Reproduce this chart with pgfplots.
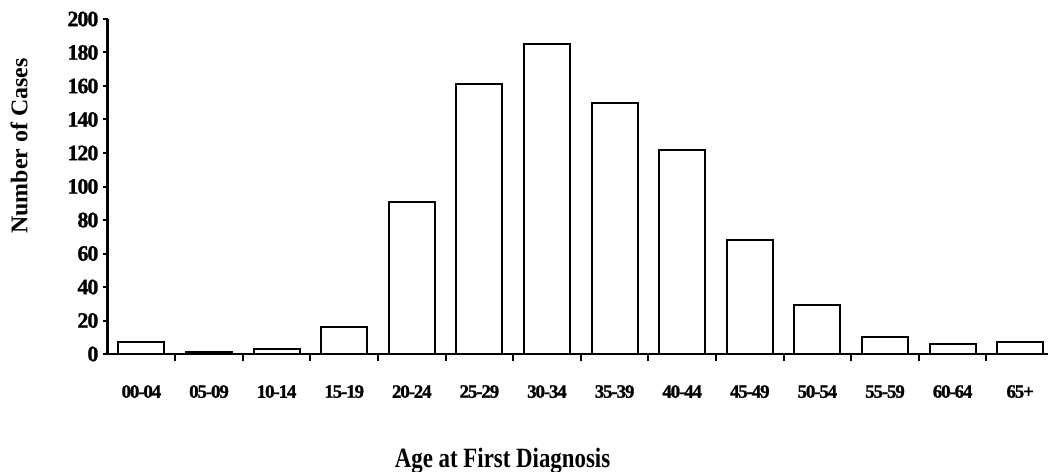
\documentclass[border=0pt]{standalone}
\usepackage{pgfplots}
\pgfplotsset{compat=1.18}
\usepackage{fontspec}
\setmainfont{Liberation Serif}
\newfontfamily\ytickfont[LetterSpace=-4.5,FakeBold=1.2]{Liberation Serif}
\newfontfamily\xtickfont[LetterSpace=-6,FakeBold=1.2]{Liberation Serif}
\newfontfamily\xlabfont[FakeStretch=0.82]{Liberation Serif}
\begin{document}
\begin{tikzpicture}
\useasboundingbox (-107.6bp,-118bp) rectangle (940.4bp,354bp);
\begin{axis}[
  at={(0,0)}, anchor=south west,
  scale only axis, width=946.4bp, height=335bp,
  xmin=-0.5, xmax=13.5, ymin=0, ymax=200,
  axis x line*=bottom, axis y line*=left,
  axis line style={line width=2.5bp, -},
  xtick={0,1,2,3,4,5,6,7,8,9,10,11,12,13},
  xticklabels={00-04,05-09,10-14,15-19,20-24,25-29,30-34,35-39,40-44,45-49,50-54,55-59,60-64,65+},
  major x tick style={draw=none},
  minor xtick={0.5,1.5,2.5,3.5,4.5,5.5,6.5,7.5,8.5,9.5,10.5,11.5,12.5},
  minor x tick style={line width=2bp, black},
  minor tick length=7bp,
  ytick={0,20,40,60,80,100,120,140,160,180,200},
  major y tick style={line width=2bp, black},
  major tick length=5bp,
  tick align=outside,
  /pgf/number format/assume math mode=true,
  yticklabel style={font=\ytickfont\bfseries\fontsize{22}{22}\selectfont, anchor=east, inner sep=0pt, xshift=-4bp},
  xticklabel style={font=\xtickfont\bfseries\fontsize{19}{19}\selectfont, anchor=north, inner sep=0pt, yshift=-26bp},
  xlabel={Age at First Diagnosis},
  xlabel style={font=\xlabfont\bfseries\fontsize{28}{28}\selectfont, at={(rel axis cs:0.4173,-0.340)}, anchor=base},
  ylabel={Number of Cases},
  ylabel style={font=\bfseries\fontsize{24}{24}\selectfont, at={(rel axis cs:-0.0936,0.621)}, anchor=center, rotate=0},
  ybar, bar width=46bp, bar shift=0pt,
  clip=false,
]
\addplot[draw=black, fill=white, line width=2bp] coordinates {
(0,7) (1,1) (2,3) (3,16) (4,91) (5,161) (6,185) (7,150) (8,122) (9,68) (10,29) (11,10) (12,6) (13,7)
};
\end{axis}
\end{tikzpicture}
\end{document}
